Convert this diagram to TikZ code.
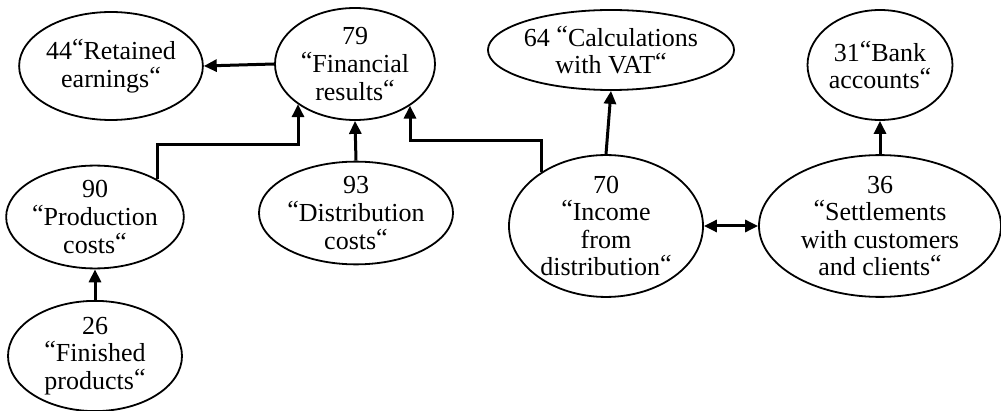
\documentclass[tikz,border=0pt]{standalone}
\usepackage{fontspec}
\setmainfont{Liberation Serif}
\usetikzlibrary{shapes.geometric}
\usetikzlibrary{arrows.meta}
\newcommand{\qm}{\raisebox{.25ex}{“}}

\begin{document}
\begin{tikzpicture}[x=0.5pt,y=-0.5pt,
                          accnode/.style={ellipse, draw, line width=0.9pt, inner sep=0pt, align=center, font=\fontsize{13}{13.8}\selectfont},
                          flow/.style={-{Triangle[length=6.5pt,width=6pt]}, line width=1.5pt},
                          flowboth/.style={{Triangle[length=6.5pt,width=6pt]}-{Triangle[length=6.5pt,width=6pt]}, line width=1.5pt},
                      ]
                      \useasboundingbox (0,0) rectangle (1001,411);
                      %Nodes
                      \node[accnode, minimum width=89pt, minimum height=54pt]    (retained)     at (111,66)   {44\qm Retained\\earnings\qm};
                      \node[accnode, minimum width=80pt, minimum height=56pt]    (financial)    at (355,64)   {79\\\qm Financial\\results\qm};
                      \node[accnode, minimum width=115pt, minimum height=40pt]   (vat)          at (611,50)   {64 \qm Calculations\\with VAT\qm};
                      \node[accnode, minimum width=68pt, minimum height=55pt]    (bank)         at (880,65)   {31\qm Bank\\accounts\qm};
                      \node[accnode, minimum width=87pt, minimum height=49pt]    (production)   at (95,217)   {90\\\qm Production\\costs\qm};
                      \node[accnode, minimum width=94pt, minimum height=45pt]    (distribution) at (356,213)  {93\\\qm Distribution\\costs\qm};
                      \node[accnode, minimum width=97pt, minimum height=65pt]    (income)       at (606,226)  {70\\\qm Income\\from\\distribution\qm};
                      \node[accnode, minimum width=121pt, minimum height=67pt]   (settlements)  at (880,226)  {36\\\qm Settlements\\with customers\\and clients\qm};
                      \node[accnode, minimum width=87pt, minimum height=53pt]    (finished)     at (95,356)   {26\\\qm Finished\\products\qm};

                      \coordinate (bendprod)   at (298,145);
                      \coordinate (bendincome) at (410,141);

                      %Lines
                      \draw[flow] (financial.west) -- (retained.east);
                      \draw[flow] (production.31) |- (bendprod) -- (bendprod |- financial.215);
                      \draw[flow] (distribution.north) -- (financial.south);
                      \draw[flow] (income.140) |- (bendincome) -- (bendincome |- financial.323);
                      \draw[flow] (income.north) -- (vat.south);
                      \draw[flow] (settlements.north) -- (bank.south);
                      \draw[flowboth] (income.east) -- (settlements.west);
                      \draw[flow] (finished.north) -- (production.south);
                  \end{tikzpicture}
\end{document}
